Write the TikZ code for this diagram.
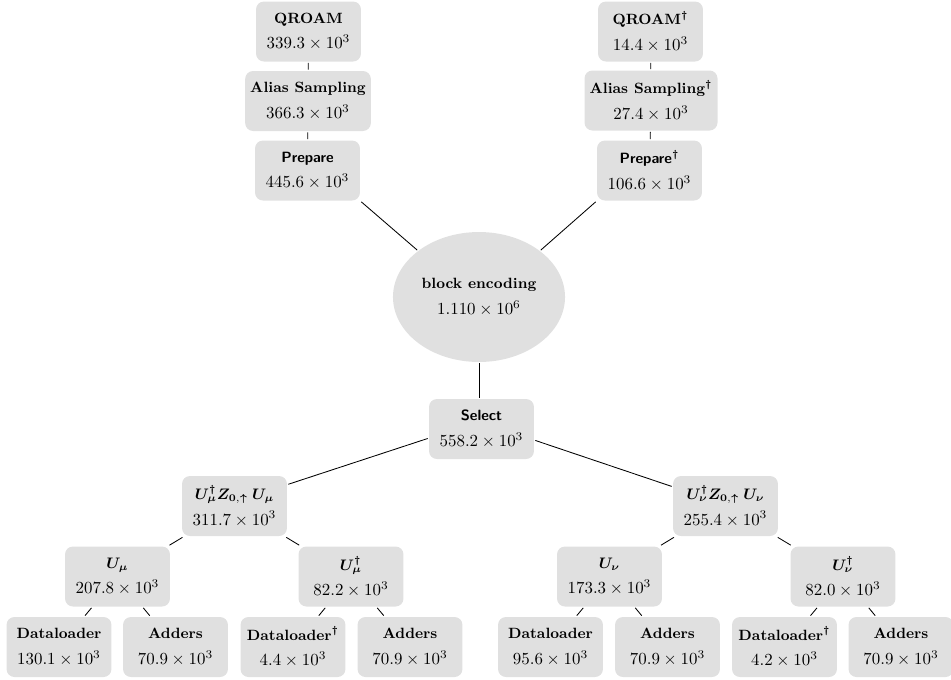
\documentclass[tikz,border=0pt]{standalone}
\usepackage{fontspec}
\usepackage{bm}
\usetikzlibrary{shapes.geometric}
\definecolor{boxgray}{RGB}{224,224,224}
\newcommand{\ttl}[1]{{\fontsize{8.8}{10}\selectfont\bfseries #1}}
\newcommand{\sttl}[1]{{\fontsize{8.8}{10}\selectfont\sffamily\bfseries #1}}
\newcommand{\dg}{$^{\bm{\dagger}}$}
\newcommand{\up}{\mathord{\bm{\uparrow}}}
\tikzset{
  box/.style={rectangle, rounded corners=4.7pt, fill=boxgray, minimum width=62.1pt, minimum height=35.5pt, align=center, inner sep=3pt, outer sep=0.8pt, font=\fontsize{10}{12}\selectfont},
  blob/.style={ellipse, fill=boxgray, minimum width=101.8pt, minimum height=76.9pt, align=center, inner sep=0pt, outer sep=0.8pt, font=\fontsize{10}{12}\selectfont},
  link/.style={line width=0.5pt, black}
}
\begin{document}
\begin{tikzpicture}[x=0.5917pt, y=-0.5917pt]
\useasboundingbox (0,0) rectangle (951,679);
% top left column
\node[box] (q1) at (308.5,31.5) {\ttl{QROAM}\\[3pt]$339.3\times10^3$};
\node[box] (a1) at (308,101) {\ttl{Alias Sampling}\\[3pt]$366.3\times10^3$};
\node[box] (p1) at (307.5,170.5) {\sttl{Prepare}\\[3pt]$445.6\times10^3$};
% top right column
\node[box] (q2) at (650.5,31.5) {\ttl{QROAM\dg}\\[3pt]$14.4\times10^3$};
\node[box] (a2) at (651,100.5) {\ttl{Alias Sampling\dg}\\[3pt]$27.4\times10^3$};
\node[box] (p2) at (649.5,170.5) {\sttl{Prepare\dg}\\[3pt]$106.6\times10^3$};
% centre
\node[blob] (be) at (479,297) {\ttl{block encoding}\\[3pt]$1.110\times10^6$};
\node[box] (sel) at (481.5,429) {\sttl{Select}\\[3pt]$558.2\times10^3$};
% second level
\node[box] (uzu) at (234.5,506) {\ttl{$\bm{U}^{\bm{\dagger}}_{\bm{\mu}}\bm{Z}_{\bm{0},\up}\mskip-4mu\bm{U}_{\bm{\mu}}$}\\[3pt]$311.7\times10^3$};
\node[box] (vzv) at (725.5,506) {\ttl{$\bm{U}^{\bm{\dagger}}_{\bm{\nu}}\bm{Z}_{\bm{0},\up}\mskip-4mu\bm{U}_{\bm{\nu}}$}\\[3pt]$255.4\times10^3$};
% third level
\node[box] (um) at (117.5,576.5) {\ttl{$\bm{U}_{\bm{\mu}}$}\\[3pt]$207.8\times10^3$};
\node[box] (umd) at (351,576.5) {\ttl{$\bm{U}^{\bm{\dagger}}_{\bm{\mu}}$}\\[3pt]$82.2\times10^3$};
\node[box] (un) at (609.5,576.5) {\ttl{$\bm{U}_{\bm{\nu}}$}\\[3pt]$173.3\times10^3$};
\node[box] (und) at (843,576.5) {\ttl{$\bm{U}^{\bm{\dagger}}_{\bm{\nu}}$}\\[3pt]$82.0\times10^3$};
% leaves
\node[box] (d1) at (59,647) {\ttl{Dataloader}\\[3pt]$130.1\times10^3$};
\node[box] (ad1) at (175.5,647) {\ttl{Adders}\\[3pt]$70.9\times10^3$};
\node[box] (d2) at (293,647) {\ttl{Dataloader\dg}\\[3pt]$4.4\times10^3$};
\node[box] (ad2) at (410,647) {\ttl{Adders}\\[3pt]$70.9\times10^3$};
\node[box] (d3) at (550.5,647) {\ttl{Dataloader}\\[3pt]$95.6\times10^3$};
\node[box] (ad3) at (667.5,647) {\ttl{Adders}\\[3pt]$70.9\times10^3$};
\node[box] (d4) at (784.5,647) {\ttl{Dataloader\dg}\\[3pt]$4.2\times10^3$};
\node[box] (ad4) at (901,647) {\ttl{Adders}\\[3pt]$70.9\times10^3$};
% connectors
\draw[link] (q1) -- (a1);
\draw[link] (a1) -- (p1);
\draw[link] (q2) -- (a2);
\draw[link] (a2) -- (p2);
\draw[link] (p1.south east) -- (be.north west);
\draw[link] (p2.south west) -- (be.north east);
\draw[link] (be.south) -- (be.south |- sel.north);
\draw[link] (sel.190) -- (uzu.22);
\draw[link] (sel.-12) -- (vzv.160);
\draw[link] (uzu) -- (um);
\draw[link] (uzu) -- (umd);
\draw[link] (vzv) -- (un);
\draw[link] (vzv) -- (und);
\draw[link] (um) -- (d1);
\draw[link] (um) -- (ad1);
\draw[link] (umd) -- (d2);
\draw[link] (umd) -- (ad2);
\draw[link] (un) -- (d3);
\draw[link] (un) -- (ad3);
\draw[link] (und) -- (d4);
\draw[link] (und) -- (ad4);
\end{tikzpicture}
\end{document}
